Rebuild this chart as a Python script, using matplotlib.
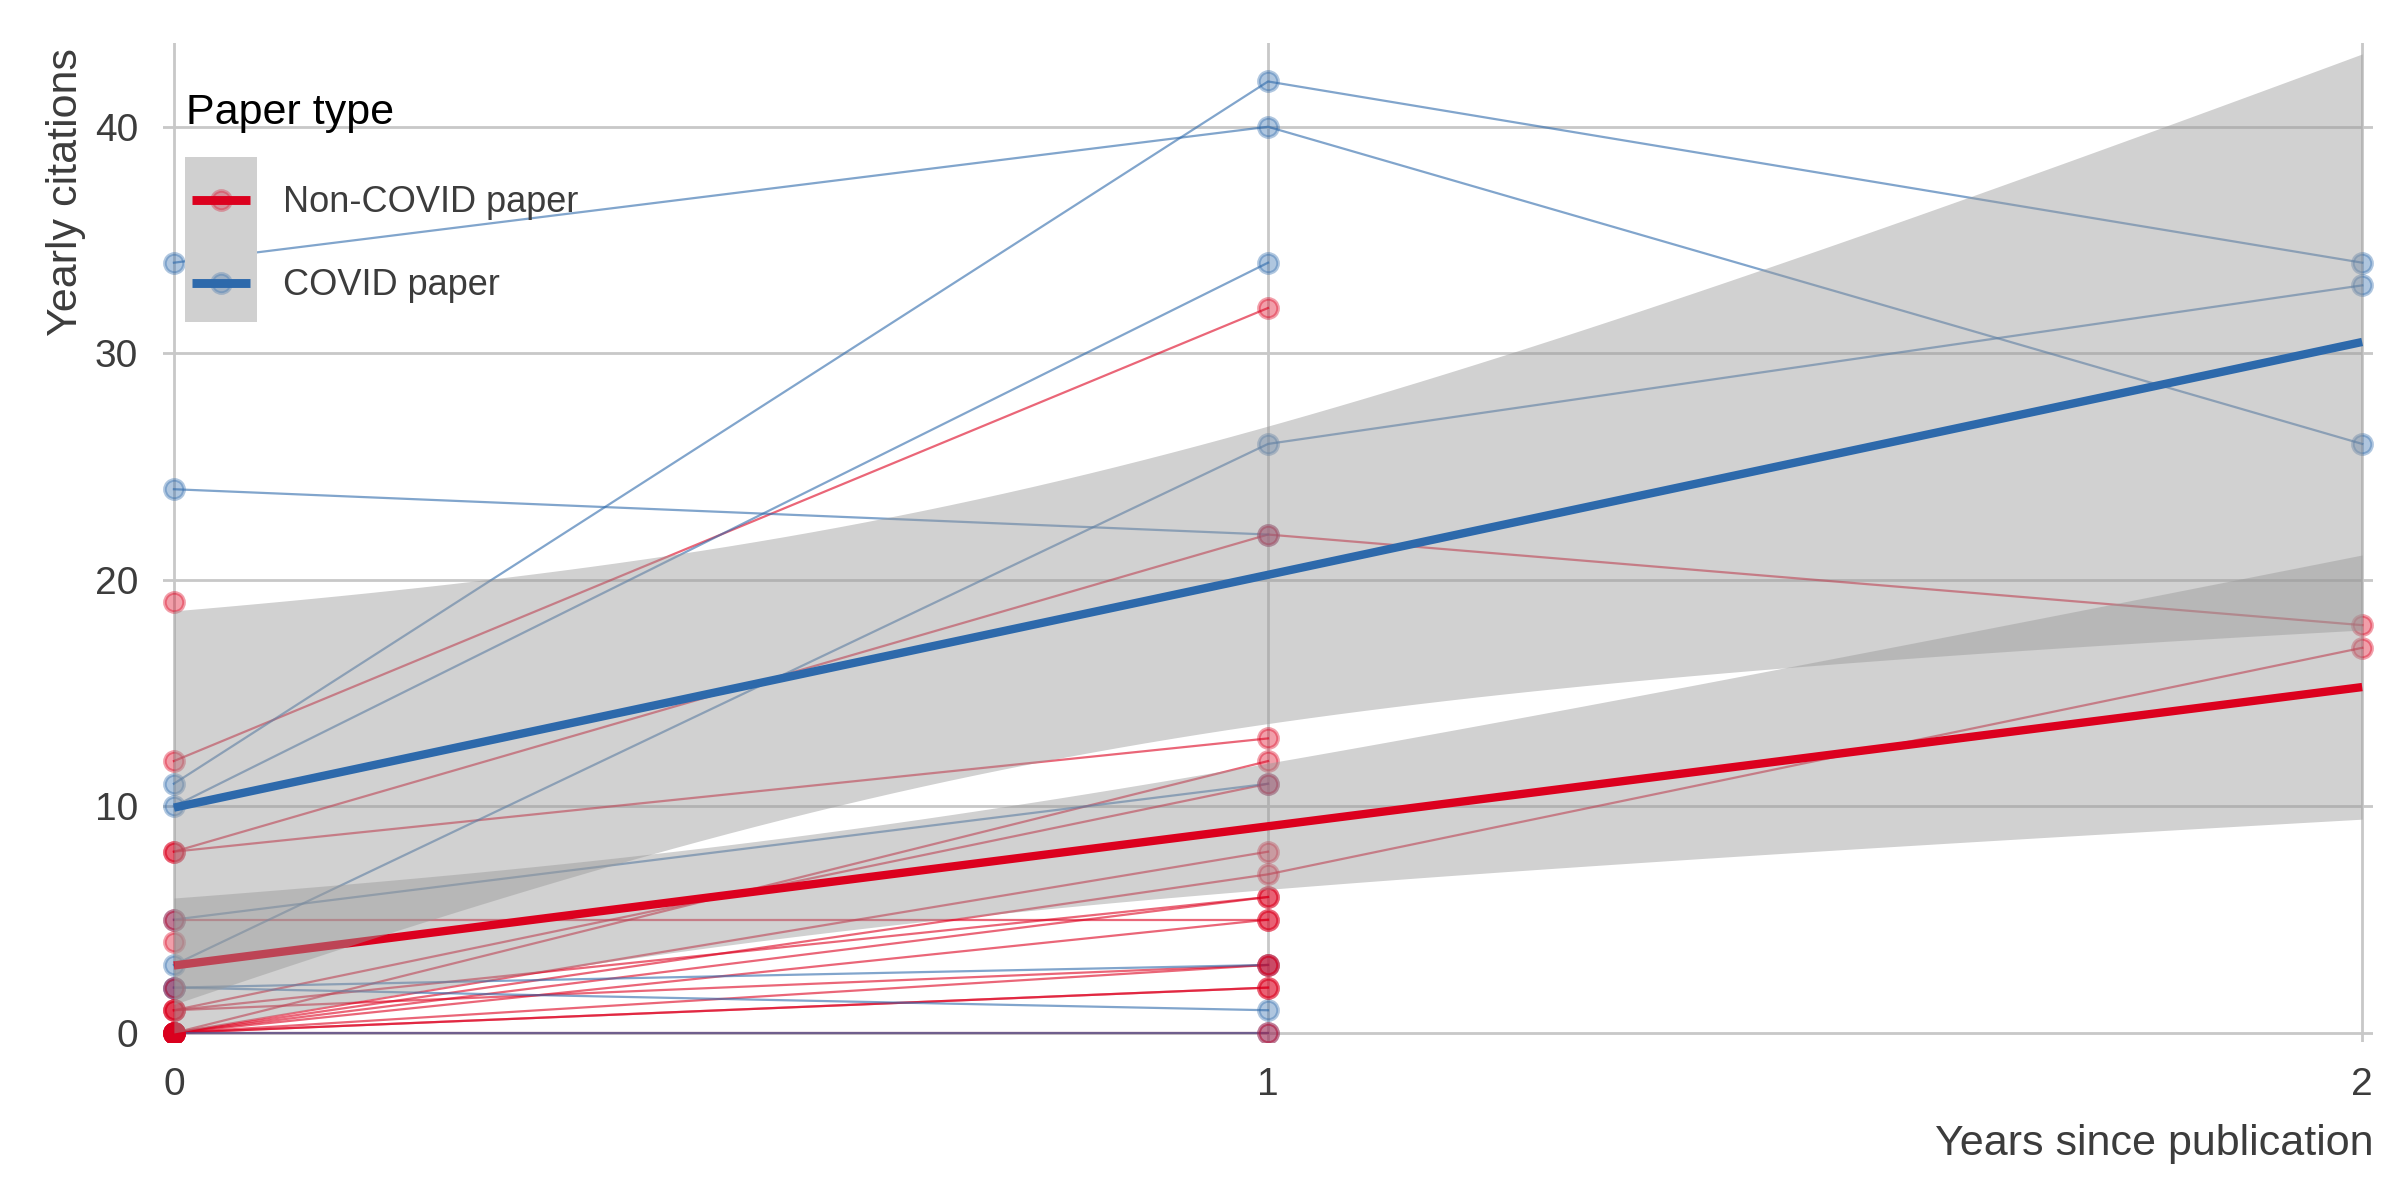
import numpy as np
import matplotlib
matplotlib.use('Agg')
import matplotlib.pyplot as plt
from matplotlib.patches import Rectangle
from matplotlib.lines import Line2D

plt.rcParams['font.family'] = ['Liberation Sans Narrow', 'Liberation Sans', 'DejaVu Sans']

years = [0, 1, 2]
# yearly citations of each paper, from year 0 on
covid_papers = [[34, 40, 26], [24, 22], [11, 42, 34], [10, 34], [5, 11],
                [3, 26, 33], [2, 1], [2, 3], [0, 0]]
noncovid_papers = [[19], [12, 32], [8, 13], [8, 22, 18], [0, 12], [1, 11],
                   [0, 8], [0, 7, 17], [0, 6], [1, 6], [5, 5], [0, 5],
                   [1, 3], [0, 3], [0, 2], [0, 2], [0, 0], [4], [2]]
group_names = ['Non-COVID paper', 'COVID paper']
group_colors = ['#DC001E', '#2D69AB']
x_ticks = [0, 1, 2]
y_ticks = [0, 10, 20, 30, 40]


def t_quantile(df, z=1.959964):
    # 97.5% quantile of student t (series expansion)
    g1 = (z**3 + z) / 4
    g2 = (5 * z**5 + 16 * z**3 + 3 * z) / 96
    g3 = (3 * z**7 + 19 * z**5 + 17 * z**3 - 15 * z) / 384
    return z + g1 / df + g2 / df**2 + g3 / df**3


def lm_fit(papers):
    x = np.concatenate([years[:len(p)] for p in papers]).astype(float)
    y = np.concatenate(papers).astype(float)
    n = len(x)
    b, a = np.polyfit(x, y, 1)
    s = np.sqrt(np.sum((y - (a + b * x)) ** 2) / (n - 2))
    xs = np.linspace(x.min(), x.max(), 80)
    sxx = np.sum((x - x.mean()) ** 2)
    se = s * np.sqrt(1 / n + (xs - x.mean()) ** 2 / sxx)
    fit = a + b * xs
    t = t_quantile(n - 2)
    return xs, fit, fit - t * se, fit + t * se


fig = plt.figure(figsize=(12, 6), dpi=200)
ax = fig.add_axes([0.0679, 0.1317, 0.9209, 0.8325])
ax.set_xlim(-0.01, 2.01)
ax.set_ylim(-0.4, 43.7)

# all thin lines first (blue on top), then points (red on top)
for papers, col in zip([noncovid_papers, covid_papers], group_colors):
    for p in papers:
        if len(p) > 1:
            ax.plot(years[:len(p)], p, color=col, alpha=0.6, lw=0.8, zorder=2)
for papers, col in zip([covid_papers, noncovid_papers], group_colors[::-1]):
    rgb = matplotlib.colors.to_rgb(col)
    for p in papers:
        ax.plot(years[:len(p)], p, 'o', ms=6.9, mfc=rgb + (0.38,),
                mec=rgb + (0.38,), mew=1.3, zorder=3)

z = 4
for papers, col in zip([noncovid_papers, covid_papers], group_colors):
    xs, fit, lo, hi = lm_fit(papers)
    ax.fill_between(xs, lo, hi, color='#999999', alpha=0.45, lw=0, zorder=z)
    ax.plot(xs, fit, color=col, lw=3.0, solid_capstyle='butt', zorder=z + 1)
    z += 2

ax.set_xticks(x_ticks)
ax.set_yticks(y_ticks)
ax.grid(True, color='#c8c8c8', lw=1.0)
ax.set_axisbelow(True)
for sp in ax.spines.values():
    sp.set_visible(False)
ax.tick_params(length=0, labelsize=14, labelcolor='#3c3c3c')
ax.tick_params(axis='x', pad=9)
ax.tick_params(axis='y', pad=9)

ax.text(1.0, -0.113, 'Years since publication', transform=ax.transAxes,
        ha='right', va='baseline', fontsize=15.5, color='#3c3c3c')
ax.text(-0.0348, 0.995, 'Yearly citations', transform=ax.transAxes,
        rotation=90, ha='right', va='top', fontsize=15.5, color='#3c3c3c')

# legend
ax.text(0.0104, 0.919, 'Paper type', transform=ax.transAxes, ha='left',
        va='baseline', fontsize=15.5, color='black', zorder=10)
ax.add_patch(Rectangle((0.00995, 0.721), 0.0326, 0.165, transform=ax.transAxes,
                       facecolor='#d0d0d0', edgecolor='none', zorder=9))
key_y = [0.843, 0.760]
label_y = [0.831, 0.748]
for name, col, ky, ly in zip(group_names, group_colors, key_y, label_y):
    rgb = matplotlib.colors.to_rgb(col)
    ax.add_line(Line2D([0.0263], [ky], transform=ax.transAxes, marker='o', ms=6.9,
                       mfc=rgb + (0.3,), mec=rgb + (0.3,), mew=1.3, zorder=10))
    ax.add_line(Line2D([0.0131, 0.0394], [ky, ky], transform=ax.transAxes,
                       color=col, lw=3.2, solid_capstyle='butt', zorder=11))
    ax.text(0.0543, ly, name, transform=ax.transAxes, ha='left', va='baseline',
            fontsize=13, color='#3c3c3c', zorder=10)

fig.savefig('out.png', dpi=200, facecolor='white')
